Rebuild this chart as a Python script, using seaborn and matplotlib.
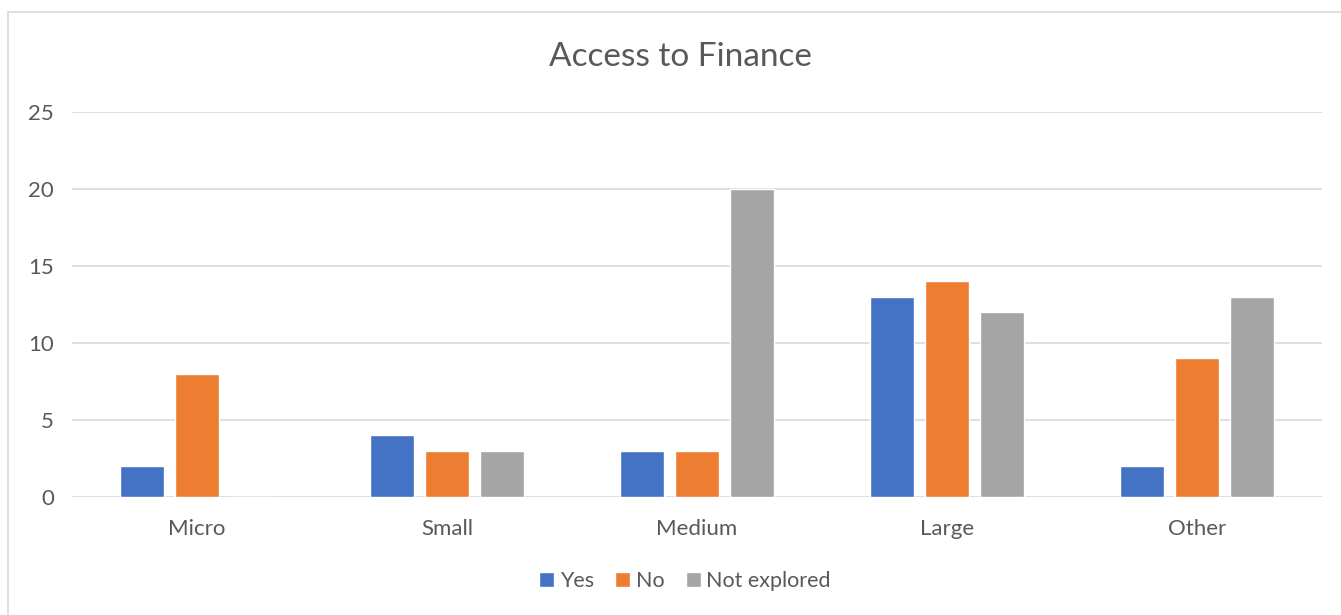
import pandas as pd
import matplotlib.pyplot as plt
import seaborn as sns
from matplotlib.patches import Rectangle

# data
categories = ["Micro", "Small", "Medium", "Large", "Other"]
yes_vals = [2, 4, 3, 13, 2]
no_vals = [8, 3, 3, 14, 9]
not_explored_vals = [0, 3, 20, 12, 13]
series_names = ["Yes", "No", "Not explored"]
colors = ["#4472C4", "#ED7D31", "#A5A5A5"]

df = pd.DataFrame({
    "category": categories * 3,
    "series": [s for s in series_names for _ in categories],
    "value": yes_vals + no_vals + not_explored_vals,
})

sns.set_theme(style="white")
plt.rcParams["font.family"] = ["Lato", "DejaVu Sans"]
text_col = "#595959"

fig = plt.figure(figsize=(13.41, 6.15), dpi=100)
ax = fig.add_axes([72 / 1341, 1 - 497 / 615, 1250 / 1341, 385 / 615])

# chart border
fig.patches.append(Rectangle((8 / 1341, -0.1), 1.2, 1 - 12 / 615 + 0.1,
                             transform=fig.transFigure, fill=False,
                             edgecolor="#d9d9d9", linewidth=1.2, zorder=0))

sns.barplot(data=df, x="category", y="value", hue="series",
            order=categories, hue_order=series_names, palette=colors,
            saturation=1, width=0.66, gap=0.2, ax=ax, legend=True)

ax.set_ylim(0, 25)
ax.set_xlim(-0.5, 4.5)
ax.set_yticks([0, 5, 10, 15, 20, 25])
ax.yaxis.grid(True, color="#d9d9d9", linewidth=1.2)
ax.set_axisbelow(True)
for s in ax.spines.values():
    s.set_visible(False)
ax.tick_params(axis="both", length=0, labelsize=16, labelcolor=text_col)
ax.tick_params(axis="y", pad=13)
ax.tick_params(axis="x", pad=16)
ax.set_xlabel("")
ax.set_ylabel("")

fig.text(680 / 1341, 1 - 57 / 615, "Access to Finance", ha="center", va="center",
         fontsize=24, color=text_col)

ax.get_legend().remove()
handles, labels = ax.get_legend_handles_labels()
fig.legend(handles, labels, loc="center", bbox_to_anchor=(685 / 1341, 1 - 581 / 615),
           ncol=3, frameon=False, fontsize=15.5, labelcolor=text_col,
           handlelength=0.7, handleheight=0.7, handletextpad=0.25, columnspacing=1.0)

fig.savefig("out.png", dpi=100)
